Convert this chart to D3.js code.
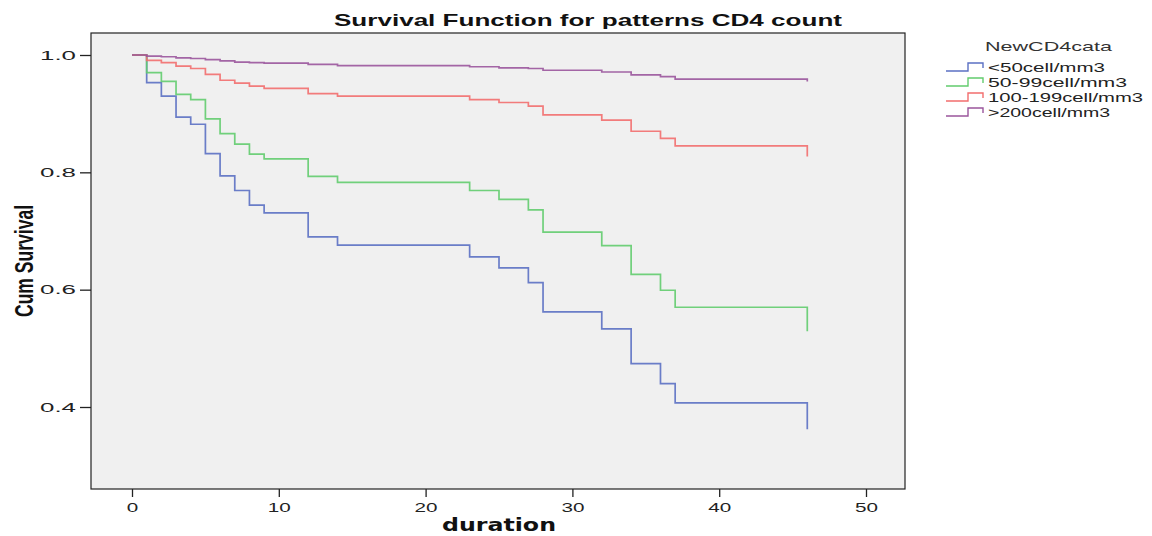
<!DOCTYPE html>
<html>
<head>
<meta charset="utf-8">
<script src="https://cdn.jsdelivr.net/npm/d3@7"></script>
<style>
  body { margin: 0; background: #ffffff; }
  svg { display: block; }
</style>
</head>
<body>
<svg id="chart" width="1152" height="536"></svg>
<script>
// Event times (months) shared by all groups
const times = [0, 1, 2, 3, 4, 5, 6, 7, 8, 9, 12, 14, 23, 25, 27, 28, 32, 34, 36, 37, 46];

// Cumulative survival after each event time, per CD4 group
const seriesNames = ["<50cell/mm3", "50-99cell/mm3", "100-199cell/mm3", ">200cell/mm3"];
const survLt50   = [1.0, 0.953, 0.930, 0.894, 0.882, 0.832, 0.794, 0.769, 0.744, 0.731, 0.690, 0.676, 0.656, 0.637, 0.612, 0.562, 0.533, 0.474, 0.440, 0.407, 0.362];
const surv50_99  = [1.0, 0.970, 0.955, 0.933, 0.924, 0.891, 0.866, 0.848, 0.831, 0.823, 0.793, 0.783, 0.769, 0.754, 0.736, 0.698, 0.675, 0.626, 0.599, 0.570, 0.529];
const surv100_199= [1.0, 0.991, 0.987, 0.981, 0.977, 0.967, 0.957, 0.952, 0.947, 0.943, 0.934, 0.930, 0.924, 0.919, 0.913, 0.898, 0.889, 0.870, 0.858, 0.845, 0.827];
const survGt200  = [1.0, 0.998, 0.997, 0.995, 0.994, 0.992, 0.990, 0.988, 0.987, 0.986, 0.984, 0.982, 0.980, 0.978, 0.977, 0.974, 0.971, 0.966, 0.963, 0.959, 0.955];
const seriesValues = [survLt50, surv50_99, surv100_199, survGt200];
const seriesColors = ["#5b70c3", "#62cc6e", "#f26e6e", "#9a559c"];

const xTicks = [0, 10, 20, 30, 40, 50];
const yTicks = [0.4, 0.6, 0.8, 1.0];

const svg = d3.select("#chart");
const frame = { left: 91, right: 905, top: 33, bottom: 489 };
const FONT = "Liberation Sans, Arial, sans-serif";

const x = d3.scaleLinear().domain([0, 50]).range([132, 866]);
const y = d3.scaleLinear().domain([0.4, 1.0]).range([407, 55]);

// plot background
svg.append("rect")
  .attr("x", frame.left).attr("y", frame.top)
  .attr("width", frame.right - frame.left).attr("height", frame.bottom - frame.top)
  .attr("fill", "#f0f0f0").attr("stroke", "#222").attr("stroke-width", 1.2);

// Kaplan-Meier step curves; the final point is the drop at the last follow-up time
const stepLine = d3.line().x(d => x(d[0])).y(d => y(d[1])).curve(d3.curveStepAfter);

seriesValues.forEach((vals, i) => {
  const pts = times.map((t, j) => [t, vals[j]]);
  svg.append("path")
    .datum(pts)
    .attr("d", stepLine)
    .attr("fill", "none")
    .attr("stroke", seriesColors[i])
    .attr("stroke-width", 1.7)
    .attr("opacity", 0.9);
});

// x axis
const xAxis = d3.axisBottom(x).tickValues(xTicks).tickFormat(d3.format("d")).tickSize(8).tickSizeOuter(0);
const gx = svg.append("g").attr("transform", `translate(0,${frame.bottom})`).call(xAxis);
gx.select(".domain").remove();
gx.selectAll("line").attr("stroke", "#222").attr("stroke-width", 1.3);
gx.selectAll("text")
  .attr("font-family", FONT).attr("font-size", 13).attr("fill", "#222").attr("dy", "0.9em")
  .attr("textLength", d => String(d).length * 11.5).attr("lengthAdjust", "spacingAndGlyphs");

// y axis
const yAxis = d3.axisLeft(y).tickValues(yTicks).tickFormat(d3.format(".1f")).tickSize(11).tickSizeOuter(0);
const gy = svg.append("g").attr("transform", `translate(${frame.left},0)`).call(yAxis);
gy.select(".domain").remove();
gy.selectAll("line").attr("stroke", "#222").attr("stroke-width", 1.3);
gy.selectAll("text")
  .attr("font-family", FONT).attr("font-size", 13).attr("fill", "#222").attr("x", -15)
  .attr("textLength", 36).attr("lengthAdjust", "spacingAndGlyphs");

// chart title
svg.append("text")
  .attr("x", 588).attr("y", 26)
  .attr("text-anchor", "middle")
  .attr("font-family", FONT)
  .attr("font-weight", "bold").attr("font-size", 17).attr("fill", "#111")
  .attr("textLength", 508).attr("lengthAdjust", "spacingAndGlyphs")
  .text("Survival Function for patterns CD4 count");

// axis titles
svg.append("text")
  .attr("x", 499).attr("y", 531)
  .attr("text-anchor", "middle")
  .attr("font-family", "DejaVu Sans, sans-serif")
  .attr("font-weight", "bold").attr("font-size", 17).attr("fill", "#111")
  .attr("textLength", 114).attr("lengthAdjust", "spacingAndGlyphs")
  .text("duration");

svg.append("text")
  .attr("transform", "translate(33,261) rotate(-90)")
  .attr("text-anchor", "middle")
  .attr("font-family", "Liberation Sans Narrow, Liberation Sans, Arial, sans-serif")
  .attr("font-weight", "bold").attr("font-size", 25).attr("fill", "#111")
  .attr("textLength", 112).attr("lengthAdjust", "spacingAndGlyphs")
  .text("Cum Survival");

// legend
const legendWidths = [117, 139, 155, 122];
const legend = svg.append("g");
legend.append("text")
  .attr("x", 985).attr("y", 51)
  .attr("font-family", FONT)
  .attr("font-size", 13).attr("fill", "#333")
  .attr("textLength", 127).attr("lengthAdjust", "spacingAndGlyphs")
  .text("NewCD4cata");

seriesNames.forEach((name, i) => {
  const yy = 67 + i * 15;
  legend.append("path")
    .attr("d", `M946,${yy + 4}H968V${yy - 4}H983V${yy + 1}`)
    .attr("fill", "none").attr("stroke", seriesColors[i]).attr("stroke-width", 1.4);
  legend.append("text")
    .attr("x", 988).attr("y", yy + 5)
    .attr("font-family", FONT)
    .attr("font-size", 13).attr("fill", "#222")
    .attr("textLength", legendWidths[i]).attr("lengthAdjust", "spacingAndGlyphs")
    .text(name);
});
</script>
</body>
</html>
